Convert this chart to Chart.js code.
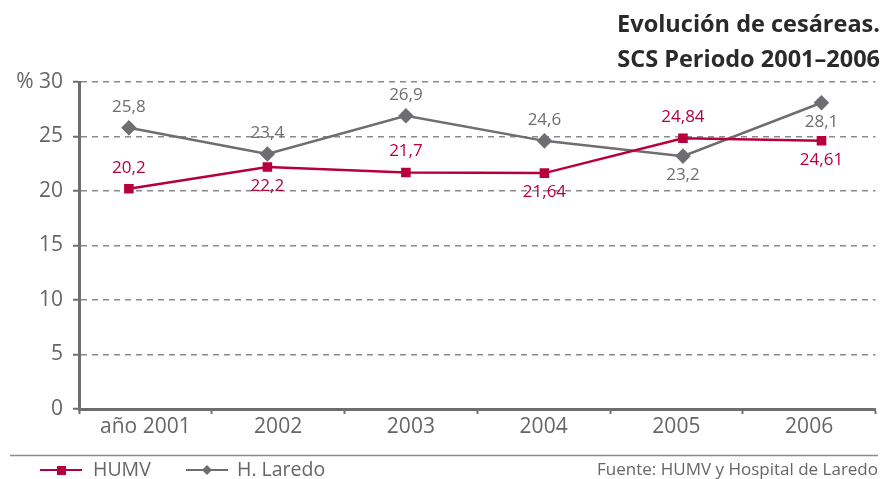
<!DOCTYPE html>
<html><head><meta charset="utf-8">
<script src="https://cdn.jsdelivr.net/npm/chart.js@4.4.0/dist/chart.umd.min.js"></script>
<style>html,body{margin:0;padding:0;background:#fff;}canvas{display:block;}</style>
</head><body>
<canvas id="c" width="884" height="479"></canvas>
<script>
const categories = ['año 2001','2002','2003','2004','2005','2006'];
const humv = [20.2, 22.2, 21.7, 21.64, 24.84, 24.61];
const laredo = [25.8, 23.4, 26.9, 24.6, 23.2, 28.1];
const humvLabels = ['20,2','22,2','21,7','21,64','24,84','24,61'];
const laredoLabels = ['25,8','23,4','26,9','24,6','23,2','28,1'];
const humvPlace = ['above','below','above','below','above','below'];
const laredoPlace = ['above','above','above','above','below','below'];
const yTicks = [0,5,10,15,20,25,30];
const titleLines = ['Evolución de cesáreas.','SCS Periodo 2001–2006'];
const sourceText = 'Fuente: HUMV y Hospital de Laredo';

const RED = '#b7003b', GRAY = '#6e6e72', TXT = '#666666';
const FONT = '"Open Sans", "Noto Sans", sans-serif';

const labelPlugin = {
  id: 'valLabels',
  afterDatasetsDraw(chart) {
    const ctx = chart.ctx;
    const sets = [[humvLabels, humvPlace, RED], [laredoLabels, laredoPlace, GRAY]];
    chart.data.datasets.forEach((ds, di) => {
      const meta = chart.getDatasetMeta(di);
      const [labs, place, col] = sets[di];
      ctx.save();
      ctx.font = '17px ' + FONT;
      ctx.fillStyle = col;
      ctx.textAlign = 'center';
      ctx.textBaseline = 'middle';
      meta.data.forEach((pt, i) => {
        const dy = place[i] === 'above' ? -21 : 19;
        ctx.fillText(labs[i], pt.x, pt.y + dy);
      });
      ctx.restore();
    });
  },
  afterDraw(chart) {
    const ctx = chart.ctx;
    ctx.save();
    ctx.fillStyle = '#2a2a2a';
    ctx.font = 'bold 23.5px ' + FONT;
    ctx.textAlign = 'right';
    ctx.textBaseline = 'alphabetic';
    ctx.fillText(titleLines[0], 880, 32);
    ctx.fillText(titleLines[1], 880, 67);
    // separator
    ctx.strokeStyle = '#8a8a8a';
    ctx.lineWidth = 1.5;
    ctx.beginPath(); ctx.moveTo(10, 455.5); ctx.lineTo(878, 455.5); ctx.stroke();
    // legend
    ctx.textAlign = 'left';
    ctx.textBaseline = 'middle';
    ctx.font = '19.5px ' + FONT;
    ctx.lineWidth = 2;
    ctx.strokeStyle = RED;
    ctx.beginPath(); ctx.moveTo(40, 470); ctx.lineTo(82, 470); ctx.stroke();
    ctx.fillStyle = RED;
    ctx.fillRect(57, 466, 9, 9);
    ctx.fillStyle = TXT;
    ctx.fillText(chart.data.datasets[0].label, 93, 470);
    ctx.strokeStyle = GRAY;
    ctx.beginPath(); ctx.moveTo(186, 470); ctx.lineTo(228, 470); ctx.stroke();
    ctx.fillStyle = GRAY;
    ctx.beginPath(); ctx.moveTo(207, 465); ctx.lineTo(212, 470); ctx.lineTo(207, 475); ctx.lineTo(202, 470); ctx.closePath(); ctx.fill();
    ctx.fillStyle = TXT;
    ctx.fillText(chart.data.datasets[1].label, 237, 470);
    ctx.font = '17px ' + FONT;
    ctx.textAlign = 'right';
    ctx.fillText(sourceText, 878, 470);
    ctx.restore();
  }
};

new Chart(document.getElementById('c'), {
  type: 'line',
  data: {
    labels: categories,
    datasets: [
      { label: 'HUMV', data: humv.map((v, i) => ({x: i, y: v})), xAxisID: 'xd',
        borderColor: RED, backgroundColor: RED, borderWidth: 2.5,
        pointStyle: 'rect', pointRadius: 5, pointHoverRadius: 5, tension: 0 },
      { label: 'H. Laredo', data: laredo.map((v, i) => ({x: i, y: v})), xAxisID: 'xd',
        borderColor: GRAY, backgroundColor: GRAY, borderWidth: 2.5,
        pointStyle: 'rectRot', pointRadius: 6, pointHoverRadius: 6, tension: 0 }
    ]
  },
  options: {
    responsive: false,
    animation: false,
    layout: { padding: { top: 82, right: 7, left: 0, bottom: 0 } },
    plugins: { legend: { display: false }, tooltip: { enabled: false } },
    scales: {
      x: {
        type: 'category',
        offset: true,
        grid: { offset: true, drawOnChartArea: false, drawTicks: true, tickLength: 5, tickColor: '#6e6e72', tickWidth: 2 },
        border: { display: true, color: '#6e6e72', width: 3 },
        ticks: { color: TXT, font: { family: FONT, size: 21 }, padding: 0, maxRotation: 0 },
        afterFit(s) { s.height = 70; }
      },
      xd: {
        type: 'linear', display: false, min: -0.36, max: 5.39
      },
      y: {
        min: 0, max: 30,
        afterBuildTicks(s) { s.ticks = yTicks.map(v => ({value: v})); },
        grid: { color: '#8a8a8a', lineWidth: 1.5, drawTicks: true, tickLength: 6, tickColor: '#6e6e72', tickWidth: 2, tickBorderDash: [0, 0] },
        border: { display: true, color: '#6e6e72', width: 3, dash: [6, 5] },
        ticks: { color: TXT, font: { family: FONT, size: 21 }, padding: 10,
          callback: (v) => v === 30 ? '% 30' : String(v) },
        afterFit(s) { s.width = 79; }
      }
    }
  },
  plugins: [labelPlugin]
});
</script>
</body></html>
